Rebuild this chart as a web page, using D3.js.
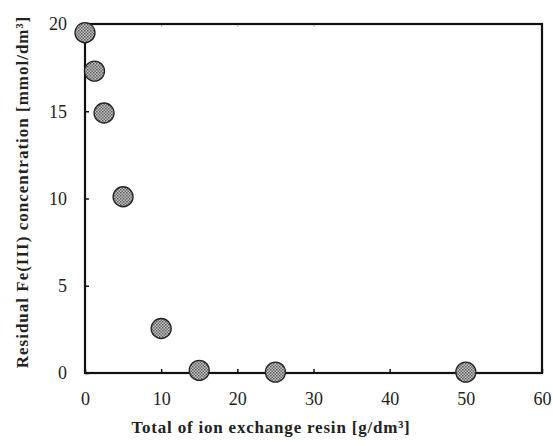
<!DOCTYPE html>
<html>
<head>
<meta charset="utf-8">
<script src="https://cdn.jsdelivr.net/npm/d3@7"></script>
<style>
  body { margin: 0; background: #fff; }
  text { font-family: "Liberation Serif", "DejaVu Serif", serif; }
</style>
</head>
<body>
<div id="chart"></div>
<script>
// data
const resin = [0, 1.25, 2.5, 5, 10, 15, 25, 50];
const residual = [19.5, 17.3, 14.9, 10.1, 2.55, 0.15, 0.05, 0.05];
const xTicks = [0, 10, 20, 30, 40, 50, 60];
const yTicks = [0, 5, 10, 15, 20];

const width = 553, height = 446;
const margin = { left: 85, right: 11, top: 24, bottom: 73 };

const svg = d3.select('#chart').append('svg')
    .attr('width', width)
    .attr('height', height);

// hatched fill for the markers
const pat = svg.append('defs').append('pattern')
    .attr('id', 'hatch')
    .attr('width', 3).attr('height', 3)
    .attr('patternUnits', 'userSpaceOnUse');
pat.append('rect').attr('width', 3).attr('height', 3).attr('fill', '#c8c8c8');
pat.append('rect').attr('width', 1.5).attr('height', 1.5).attr('fill', '#555');
pat.append('rect').attr('x', 1.5).attr('y', 1.5).attr('width', 1.5).attr('height', 1.5).attr('fill', '#666');

const x = d3.scaleLinear()
    .domain([0, 60])
    .range([margin.left, width - margin.right]);

const y = d3.scaleLinear()
    .domain([0, 20])
    .range([height - margin.bottom, margin.top]);

// bottom axis
const xAxis = svg.append('g')
    .attr('transform', `translate(0,${y(0)})`)
    .call(d3.axisBottom(x).tickValues(xTicks).tickSizeInner(-4).tickSizeOuter(0).tickPadding(19));
xAxis.select('.domain').remove();
xAxis.selectAll('text').attr('font-size', 18).attr('fill', '#222');
xAxis.selectAll('line').attr('stroke', '#111').attr('stroke-width', 1.5);

// left axis
const yAxis = svg.append('g')
    .attr('transform', `translate(${x(0)},0)`)
    .call(d3.axisLeft(y).tickValues(yTicks).tickSizeInner(-4).tickSizeOuter(0).tickPadding(18));
yAxis.select('.domain').remove();
yAxis.selectAll('text').attr('font-size', 18).attr('fill', '#222');
yAxis.selectAll('line').attr('stroke', '#111').attr('stroke-width', 1.5);

// top ticks (faint)
svg.append('g')
    .attr('transform', `translate(0,${y(20)})`)
    .call(d3.axisTop(x).tickValues([10, 20, 30]).tickSizeInner(-3).tickSizeOuter(0).tickFormat(''))
    .call(g => g.select('.domain').remove())
    .selectAll('line').attr('stroke', '#bbb');

// frame
svg.append('rect')
    .attr('x', x(0))
    .attr('y', y(20))
    .attr('width', x(60) - x(0))
    .attr('height', y(0) - y(20))
    .attr('fill', 'none')
    .attr('stroke', '#111')
    .attr('stroke-width', 2.2);

// markers
svg.append('g')
    .selectAll('circle')
    .data(resin)
    .join('circle')
    .attr('cx', d => x(d))
    .attr('cy', (d, i) => y(residual[i]))
    .attr('r', 10)
    .attr('fill', 'url(#hatch)')
    .attr('stroke', '#222')
    .attr('stroke-width', 1.3);

// axis titles
svg.append('text')
    .attr('x', 271)
    .attr('y', 433)
    .attr('text-anchor', 'middle')
    .attr('font-size', 17)
    .attr('font-weight', 'bold')
    .attr('letter-spacing', 0.8)
    .attr('fill', '#222')
    .text('Total of ion exchange resin [g/dm³]');

svg.append('text')
    .attr('transform', 'translate(28,192) rotate(-90)')
    .attr('text-anchor', 'middle')
    .attr('font-size', 17)
    .attr('font-weight', 'bold')
    .attr('letter-spacing', 1)
    .attr('fill', '#222')
    .text('Residual Fe(III) concentration [mmol/dm³]');
</script>
</body>
</html>
